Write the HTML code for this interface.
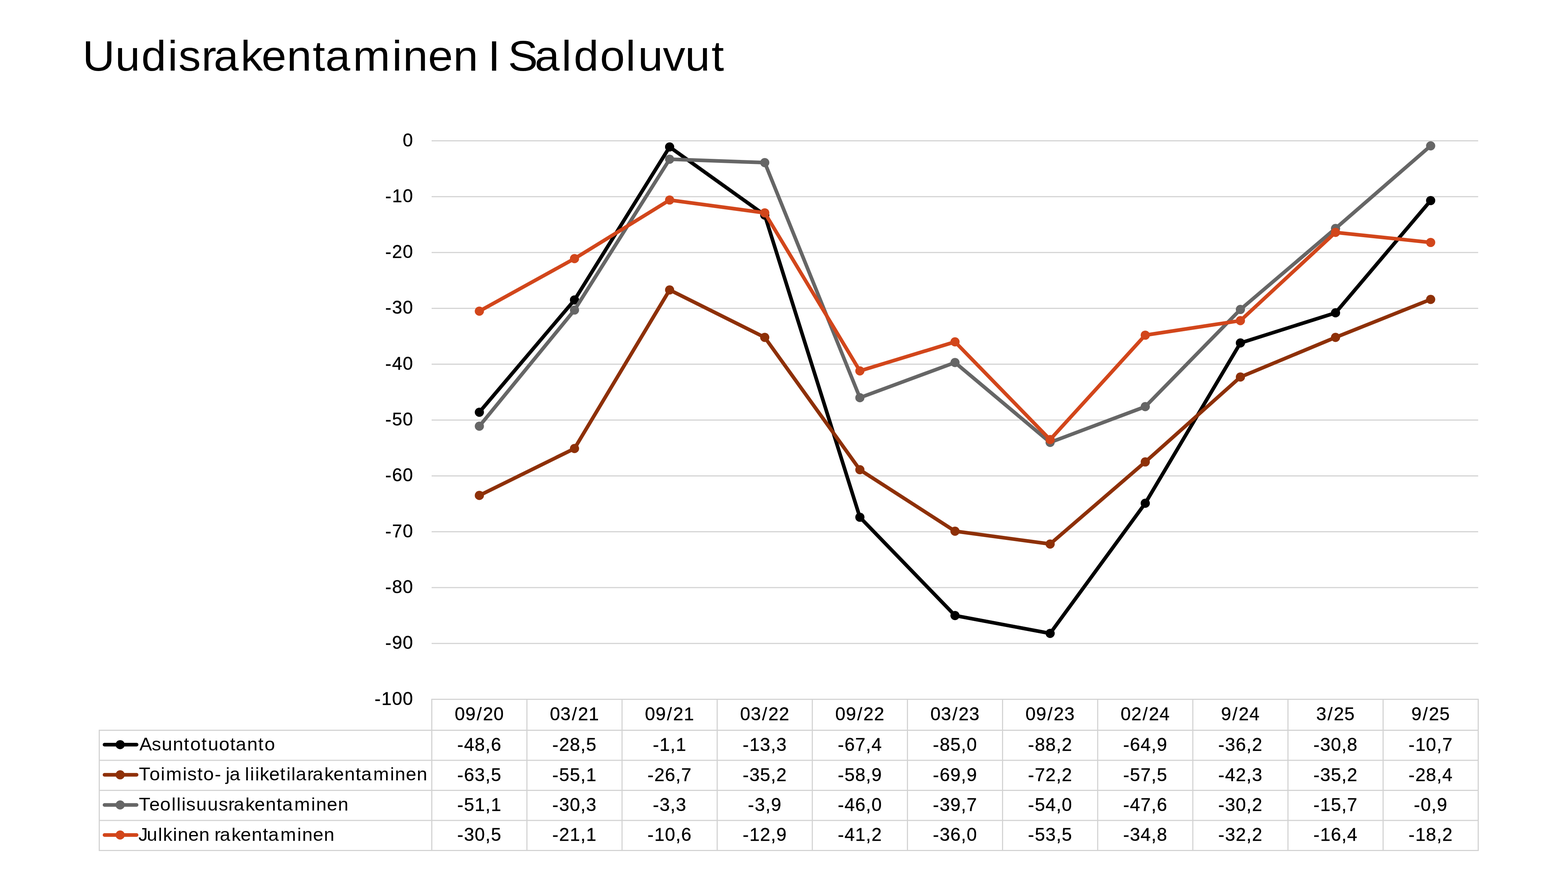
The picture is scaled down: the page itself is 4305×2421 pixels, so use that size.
<!DOCTYPE html>
<html lang="fi">
<head>
<meta charset="utf-8">
<title>Uudisrakentaminen I Saldoluvut</title>
<style>
html,body{margin:0;padding:0;background:#fff}
body{width:4305px;height:2421px;overflow:hidden;position:relative}
svg{display:block;position:absolute;left:0;top:0}
text{font-family:"Liberation Sans",sans-serif;fill:#000;font-kerning:none;white-space:pre}
.ttl{stroke:none}
.num text,text.num{stroke:#000;stroke-width:0.5px;stroke-linejoin:round}
text.nm{stroke:none}
.grid rect{fill:#d2d2d2}
</style>
</head>
<body>
<svg width="4305" height="2421" viewBox="0 0 4305 2421">
<rect x="0" y="0" width="4305" height="2421" fill="#ffffff"/>
<g class="title">
<text transform="scale(1.05 1)" x="215.71 301.27 369.64 438.51 466.71 526.65 558.79 628.96 683.91 749.86 817.62 850.69 922.62 1025.17 1053.67 1119.2 1185.05 1248.08 1275.6 1300.94 1328.34 1398.12 1468.31 1500.26 1568.75 1635.93 1668.27 1733.42 1791.46 1860.58" y="193.7" font-size="117" class="ttl">Uudisrakentaminen I Saldoluvut</text>
</g>
<g class="grid">
<rect x="1185" y="385" width="2873.4" height="3"/>
<rect x="1185" y="538.3" width="2873.4" height="3"/>
<rect x="1185" y="691.6" width="2873.4" height="3"/>
<rect x="1185" y="844.9" width="2873.4" height="3"/>
<rect x="1185" y="998.2" width="2873.4" height="3"/>
<rect x="1185" y="1151.5" width="2873.4" height="3"/>
<rect x="1185" y="1304.8" width="2873.4" height="3"/>
<rect x="1185" y="1458.1" width="2873.4" height="3"/>
<rect x="1185" y="1611.4" width="2873.4" height="3"/>
<rect x="1185" y="1764.7" width="2873.4" height="3"/>
</g>
<g class="grid table">
<rect x="1184" y="1918" width="2876" height="3"/>
<rect x="271" y="2003" width="3789" height="3"/>
<rect x="271" y="2085.5" width="3789" height="3"/>
<rect x="271" y="2168" width="3789" height="3"/>
<rect x="271" y="2250.5" width="3789" height="3"/>
<rect x="271" y="2333" width="3789" height="3"/>
<rect x="271" y="2004.5" width="3" height="330"/>
<rect x="1184" y="1919.5" width="3" height="415"/>
<rect x="1445.18" y="1919.5" width="3" height="415"/>
<rect x="1706.36" y="1919.5" width="3" height="415"/>
<rect x="1967.55" y="1919.5" width="3" height="415"/>
<rect x="2228.73" y="1919.5" width="3" height="415"/>
<rect x="2489.91" y="1919.5" width="3" height="415"/>
<rect x="2751.09" y="1919.5" width="3" height="415"/>
<rect x="3012.27" y="1919.5" width="3" height="415"/>
<rect x="3273.45" y="1919.5" width="3" height="415"/>
<rect x="3534.64" y="1919.5" width="3" height="415"/>
<rect x="3795.82" y="1919.5" width="3" height="415"/>
<rect x="4057" y="1919.5" width="3" height="415"/>
</g>
<g class="ylabels num">
<text x="1105.7" y="401.5" font-size="50" class="num">0</text>
<text x="1057.82 1076.5 1105.7" y="554.8" font-size="50" class="num">-10</text>
<text x="1057.82 1076.5 1105.7" y="708.1" font-size="50" class="num">-20</text>
<text x="1057.82 1076.5 1105.7" y="861.4" font-size="50" class="num">-30</text>
<text x="1057.82 1076.5 1105.7" y="1014.7" font-size="50" class="num">-40</text>
<text x="1057.82 1076.5 1105.7" y="1168" font-size="50" class="num">-50</text>
<text x="1057.82 1076.5 1105.7" y="1321.3" font-size="50" class="num">-60</text>
<text x="1057.82 1076.5 1105.7" y="1474.6" font-size="50" class="num">-70</text>
<text x="1057.82 1076.5 1105.7" y="1627.9" font-size="50" class="num">-80</text>
<text x="1057.82 1076.5 1105.7" y="1781.2" font-size="50" class="num">-90</text>
<text x="1028.62 1047.3 1076.5 1105.7" y="1934.5" font-size="50" class="num">-100</text>
</g>
<g class="series">
<g stroke="#000000" fill="#000000">
<polyline fill="none" stroke-width="10" stroke-linejoin="round" stroke-linecap="round" points="1316.09,1131.54 1577.27,823.4 1838.45,403.36 2099.64,590.39 2360.82,1419.74 2622,1689.55 2883.18,1738.61 3144.36,1381.42 3405.55,941.45 3666.73,858.66 3927.91,550.53"/>
<circle cx="1316.09" cy="1131.54" r="12.6" stroke="none"/>
<circle cx="1577.27" cy="823.4" r="12.6" stroke="none"/>
<circle cx="1838.45" cy="403.36" r="12.6" stroke="none"/>
<circle cx="2099.64" cy="590.39" r="12.6" stroke="none"/>
<circle cx="2360.82" cy="1419.74" r="12.6" stroke="none"/>
<circle cx="2622" cy="1689.55" r="12.6" stroke="none"/>
<circle cx="2883.18" cy="1738.61" r="12.6" stroke="none"/>
<circle cx="3144.36" cy="1381.42" r="12.6" stroke="none"/>
<circle cx="3405.55" cy="941.45" r="12.6" stroke="none"/>
<circle cx="3666.73" cy="858.66" r="12.6" stroke="none"/>
<circle cx="3927.91" cy="550.53" r="12.6" stroke="none"/>
</g>
<g stroke="#8e3007" fill="#8e3007">
<polyline fill="none" stroke-width="10" stroke-linejoin="round" stroke-linecap="round" points="1316.09,1359.95 1577.27,1231.18 1838.45,795.81 2099.64,926.12 2360.82,1289.44 2622,1458.07 2883.18,1493.33 3144.36,1267.97 3405.55,1034.96 3666.73,926.12 3927.91,821.87"/>
<circle cx="1316.09" cy="1359.95" r="12.6" stroke="none"/>
<circle cx="1577.27" cy="1231.18" r="12.6" stroke="none"/>
<circle cx="1838.45" cy="795.81" r="12.6" stroke="none"/>
<circle cx="2099.64" cy="926.12" r="12.6" stroke="none"/>
<circle cx="2360.82" cy="1289.44" r="12.6" stroke="none"/>
<circle cx="2622" cy="1458.07" r="12.6" stroke="none"/>
<circle cx="2883.18" cy="1493.33" r="12.6" stroke="none"/>
<circle cx="3144.36" cy="1267.97" r="12.6" stroke="none"/>
<circle cx="3405.55" cy="1034.96" r="12.6" stroke="none"/>
<circle cx="3666.73" cy="926.12" r="12.6" stroke="none"/>
<circle cx="3927.91" cy="821.87" r="12.6" stroke="none"/>
</g>
<g stroke="#666666" fill="#666666">
<polyline fill="none" stroke-width="10" stroke-linejoin="round" stroke-linecap="round" points="1316.09,1169.86 1577.27,851 1838.45,437.09 2099.64,446.29 2360.82,1091.68 2622,995.1 2883.18,1214.32 3144.36,1116.21 3405.55,849.47 3666.73,627.18 3927.91,400.3"/>
<circle cx="1316.09" cy="1169.86" r="12.6" stroke="none"/>
<circle cx="1577.27" cy="851" r="12.6" stroke="none"/>
<circle cx="1838.45" cy="437.09" r="12.6" stroke="none"/>
<circle cx="2099.64" cy="446.29" r="12.6" stroke="none"/>
<circle cx="2360.82" cy="1091.68" r="12.6" stroke="none"/>
<circle cx="2622" cy="995.1" r="12.6" stroke="none"/>
<circle cx="2883.18" cy="1214.32" r="12.6" stroke="none"/>
<circle cx="3144.36" cy="1116.21" r="12.6" stroke="none"/>
<circle cx="3405.55" cy="849.47" r="12.6" stroke="none"/>
<circle cx="3666.73" cy="627.18" r="12.6" stroke="none"/>
<circle cx="3927.91" cy="400.3" r="12.6" stroke="none"/>
</g>
<g stroke="#d2461b" fill="#d2461b">
<polyline fill="none" stroke-width="10" stroke-linejoin="round" stroke-linecap="round" points="1316.09,854.07 1577.27,709.96 1838.45,549 2099.64,584.26 2360.82,1018.1 2622,938.38 2883.18,1206.65 3144.36,919.98 3405.55,880.13 3666.73,637.91 3927.91,665.51"/>
<circle cx="1316.09" cy="854.07" r="12.6" stroke="none"/>
<circle cx="1577.27" cy="709.96" r="12.6" stroke="none"/>
<circle cx="1838.45" cy="549" r="12.6" stroke="none"/>
<circle cx="2099.64" cy="584.26" r="12.6" stroke="none"/>
<circle cx="2360.82" cy="1018.1" r="12.6" stroke="none"/>
<circle cx="2622" cy="938.38" r="12.6" stroke="none"/>
<circle cx="2883.18" cy="1206.65" r="12.6" stroke="none"/>
<circle cx="3144.36" cy="919.98" r="12.6" stroke="none"/>
<circle cx="3405.55" cy="880.13" r="12.6" stroke="none"/>
<circle cx="3666.73" cy="637.91" r="12.6" stroke="none"/>
<circle cx="3927.91" cy="665.51" r="12.6" stroke="none"/>
</g>
</g>
<g class="legend-keys">
<line x1="287" y1="2044" x2="375" y2="2044" stroke="#000000" stroke-width="10" stroke-linecap="round"/>
<circle cx="329.9" cy="2044" r="12.55" fill="#000000"/>
<line x1="287" y1="2126.8" x2="375" y2="2126.8" stroke="#8e3007" stroke-width="10" stroke-linecap="round"/>
<circle cx="329.9" cy="2126.8" r="12.55" fill="#8e3007"/>
<line x1="287" y1="2209.5" x2="375" y2="2209.5" stroke="#666666" stroke-width="10" stroke-linecap="round"/>
<circle cx="329.9" cy="2209.5" r="12.55" fill="#666666"/>
<line x1="287" y1="2292" x2="375" y2="2292" stroke="#d2461b" stroke-width="10" stroke-linecap="round"/>
<circle cx="329.9" cy="2292" r="12.55" fill="#d2461b"/>
</g>
<g class="header num">
<text x="1248.49 1277.69 1308.75 1325.89 1355.09" y="1976.7" font-size="50" class="num">09/20</text>
<text x="1509.67 1538.87 1569.93 1587.07 1616.27" y="1976.7" font-size="50" class="num">03/21</text>
<text x="1770.85 1800.05 1831.11 1848.25 1877.45" y="1976.7" font-size="50" class="num">09/21</text>
<text x="2032.03 2061.23 2092.29 2109.43 2138.63" y="1976.7" font-size="50" class="num">03/22</text>
<text x="2293.21 2322.41 2353.47 2370.61 2399.81" y="1976.7" font-size="50" class="num">09/22</text>
<text x="2554.4 2583.6 2614.65 2631.8 2661" y="1976.7" font-size="50" class="num">03/23</text>
<text x="2815.58 2844.78 2875.84 2892.98 2922.18" y="1976.7" font-size="50" class="num">09/23</text>
<text x="3076.76 3105.96 3137.02 3154.16 3183.36" y="1976.7" font-size="50" class="num">02/24</text>
<text x="3352.54 3383.6 3400.74 3429.94" y="1976.7" font-size="50" class="num">9/24</text>
<text x="3613.72 3644.78 3661.92 3691.12" y="1976.7" font-size="50" class="num">3/25</text>
<text x="3874.91 3905.96 3923.11 3952.31" y="1976.7" font-size="50" class="num">9/25</text>
</g>
<g class="cells">
<text transform="scale(1.04 1)" x="368.09 400.43 427.03 456.24 485.31 502.29 531.7 549.15 578.2 607.57 622.29 652.49 681.6 698.39" y="2059.7" font-size="49.7" class="nm">Asuntotuotanto</text>
<text x="1255.42 1274.09 1303.29 1332.6 1347.99" y="2060.9" font-size="50" class="num">-48,6</text>
<text x="1516.6 1535.27 1564.47 1593.78 1609.17" y="2060.9" font-size="50" class="num">-28,5</text>
<text x="1792.38 1811.05 1840.36 1855.75" y="2060.9" font-size="50" class="num">-1,1</text>
<text x="2038.96 2057.63 2086.83 2116.14 2131.53" y="2060.9" font-size="50" class="num">-13,3</text>
<text x="2300.14 2318.81 2348.01 2377.32 2392.71" y="2060.9" font-size="50" class="num">-67,4</text>
<text x="2561.32 2580 2609.2 2638.5 2653.9" y="2060.9" font-size="50" class="num">-85,0</text>
<text x="2822.51 2841.18 2870.38 2899.69 2915.08" y="2060.9" font-size="50" class="num">-88,2</text>
<text x="3083.69 3102.36 3131.56 3160.87 3176.26" y="2060.9" font-size="50" class="num">-64,9</text>
<text x="3344.87 3363.54 3392.74 3422.05 3437.44" y="2060.9" font-size="50" class="num">-36,2</text>
<text x="3606.05 3624.72 3653.92 3683.23 3698.62" y="2060.9" font-size="50" class="num">-30,8</text>
<text x="3867.23 3885.91 3915.11 3944.41 3959.81" y="2060.9" font-size="50" class="num">-10,7</text>
<text transform="scale(1.04 1)" x="366.66 394.64 424.35 438.23 482.23 494.42 520.93 536.85 566.72 581.08 595.65 606.33 634.11 646.75 660.16 673.63 685.91 710.6 739.1 756.27 769.05 781.13 811.16 825.44 856.22 880.34 909.29 938.81 953.59 985.36 1029.87 1042.66 1071.43 1100.34" y="2141.9" font-size="49.7" class="nm">Toimisto- ja liiketilarakentaminen</text>
<text x="1255.42 1274.09 1303.29 1332.6 1347.99" y="2143.6" font-size="50" class="num">-63,5</text>
<text x="1516.6 1535.27 1564.47 1593.78 1609.17" y="2143.6" font-size="50" class="num">-55,1</text>
<text x="1777.78 1796.45 1825.65 1854.96 1870.35" y="2143.6" font-size="50" class="num">-26,7</text>
<text x="2038.96 2057.63 2086.83 2116.14 2131.53" y="2143.6" font-size="50" class="num">-35,2</text>
<text x="2300.14 2318.81 2348.01 2377.32 2392.71" y="2143.6" font-size="50" class="num">-58,9</text>
<text x="2561.32 2580 2609.2 2638.5 2653.9" y="2143.6" font-size="50" class="num">-69,9</text>
<text x="2822.51 2841.18 2870.38 2899.69 2915.08" y="2143.6" font-size="50" class="num">-72,2</text>
<text x="3083.69 3102.36 3131.56 3160.87 3176.26" y="2143.6" font-size="50" class="num">-57,5</text>
<text x="3344.87 3363.54 3392.74 3422.05 3437.44" y="2143.6" font-size="50" class="num">-42,3</text>
<text x="3606.05 3624.72 3653.92 3683.23 3698.62" y="2143.6" font-size="50" class="num">-35,2</text>
<text x="3867.23 3885.91 3915.11 3944.41 3959.81" y="2143.6" font-size="50" class="num">-28,4</text>
<text transform="scale(1.04 1)" x="366.66 394.31 422.57 452.9 466.17 479.3 491.44 518.09 547.9 577.11 602.7 616.99 647.78 671.9 700.86 730.39 745.18 776.96 821.48 834.27 863.05 891.97" y="2224.8" font-size="49.7" class="nm">Teollisuusrakentaminen</text>
<text x="1255.42 1274.09 1303.29 1332.6 1347.99" y="2225.5" font-size="50" class="num">-51,1</text>
<text x="1516.6 1535.27 1564.47 1593.78 1609.17" y="2225.5" font-size="50" class="num">-30,3</text>
<text x="1792.38 1811.05 1840.36 1855.75" y="2225.5" font-size="50" class="num">-3,3</text>
<text x="2053.56 2072.23 2101.54 2116.93" y="2225.5" font-size="50" class="num">-3,9</text>
<text x="2300.14 2318.81 2348.01 2377.32 2392.71" y="2225.5" font-size="50" class="num">-46,0</text>
<text x="2561.32 2580 2609.2 2638.5 2653.9" y="2225.5" font-size="50" class="num">-39,7</text>
<text x="2822.51 2841.18 2870.38 2899.69 2915.08" y="2225.5" font-size="50" class="num">-54,0</text>
<text x="3083.69 3102.36 3131.56 3160.87 3176.26" y="2225.5" font-size="50" class="num">-47,6</text>
<text x="3344.87 3363.54 3392.74 3422.05 3437.44" y="2225.5" font-size="50" class="num">-30,2</text>
<text x="3606.05 3624.72 3653.92 3683.23 3698.62" y="2225.5" font-size="50" class="num">-15,7</text>
<text x="3881.83 3900.51 3929.81 3945.21" y="2225.5" font-size="50" class="num">-0,9</text>
<text transform="scale(1.04 1)" x="365.47 387.61 417.32 430.19 456.41 468.88 497.09 525.57 552.71 566.06 580.34 611.11 635.21 664.16 693.67 708.45 740.21 784.71 797.49 826.25 855.15" y="2307.8" font-size="49.7" class="nm">Julkinen rakentaminen</text>
<text x="1255.42 1274.09 1303.29 1332.6 1347.99" y="2308.1" font-size="50" class="num">-30,5</text>
<text x="1516.6 1535.27 1564.47 1593.78 1609.17" y="2308.1" font-size="50" class="num">-21,1</text>
<text x="1777.78 1796.45 1825.65 1854.96 1870.35" y="2308.1" font-size="50" class="num">-10,6</text>
<text x="2038.96 2057.63 2086.83 2116.14 2131.53" y="2308.1" font-size="50" class="num">-12,9</text>
<text x="2300.14 2318.81 2348.01 2377.32 2392.71" y="2308.1" font-size="50" class="num">-41,2</text>
<text x="2561.32 2580 2609.2 2638.5 2653.9" y="2308.1" font-size="50" class="num">-36,0</text>
<text x="2822.51 2841.18 2870.38 2899.69 2915.08" y="2308.1" font-size="50" class="num">-53,5</text>
<text x="3083.69 3102.36 3131.56 3160.87 3176.26" y="2308.1" font-size="50" class="num">-34,8</text>
<text x="3344.87 3363.54 3392.74 3422.05 3437.44" y="2308.1" font-size="50" class="num">-32,2</text>
<text x="3606.05 3624.72 3653.92 3683.23 3698.62" y="2308.1" font-size="50" class="num">-16,4</text>
<text x="3867.23 3885.91 3915.11 3944.41 3959.81" y="2308.1" font-size="50" class="num">-18,2</text>
</g>
</svg>
</body>
</html>
